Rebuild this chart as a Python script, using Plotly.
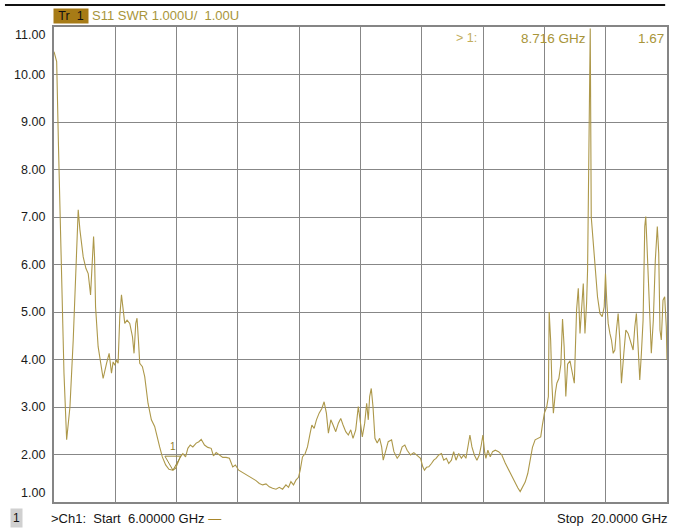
import plotly.graph_objects as go

# S11 SWR sweep, 6-20 GHz
freq_ghz = [
    6.000, 6.061, 6.102, 6.137, 6.175, 6.228, 6.289, 6.364, 6.439, 6.501,
    6.553, 6.592, 6.667, 6.728, 6.781, 6.835, 6.881, 6.904, 6.926, 6.949,
    7.008, 7.086, 7.122, 7.200, 7.259, 7.313, 7.350, 7.389, 7.427, 7.464,
    7.502, 7.541, 7.578, 7.616, 7.669, 7.730, 7.792, 7.828, 7.867, 7.896,
    7.928, 7.958, 8.019, 8.072, 8.147, 8.224, 8.299, 8.352, 8.413, 8.474,
    8.550, 8.625, 8.716, 8.777, 8.830, 8.884, 8.943, 9.005, 9.057, 9.112,
    9.171, 9.248, 9.308, 9.362, 9.437, 9.513, 9.590, 9.642, 9.704, 9.779,
    9.854, 9.931, 10.006, 10.082, 10.143, 10.218, 10.309, 10.387, 10.462, 10.537,
    10.614, 10.689, 10.765, 10.842, 10.917, 10.992, 11.070, 11.145, 11.220, 11.297,
    11.356, 11.411, 11.470, 11.525, 11.584, 11.623, 11.675, 11.737, 11.789, 11.850,
    11.889, 11.941, 11.994, 12.055, 12.117, 12.169, 12.221, 12.267, 12.322, 12.374,
    12.435, 12.495, 12.549, 12.602, 12.663, 12.722, 12.777, 12.829, 12.891, 12.950,
    12.995, 13.041, 13.096, 13.141, 13.178, 13.209, 13.246, 13.285, 13.330, 13.382,
    13.437, 13.483, 13.519, 13.574, 13.633, 13.710, 13.763, 13.838, 13.892, 13.952,
    14.013, 14.065, 14.143, 14.218, 14.293, 14.370, 14.423, 14.461, 14.507, 14.559,
    14.621, 14.673, 14.725, 14.787, 14.848, 14.901, 14.962, 15.015, 15.076, 15.128,
    15.181, 15.242, 15.304, 15.356, 15.408, 15.454, 15.499, 15.545, 15.600, 15.659,
    15.713, 15.759, 15.795, 15.834, 15.864, 15.909, 15.964, 16.016, 16.078, 16.153,
    16.228, 16.305, 16.380, 16.456, 16.533, 16.592, 16.647, 16.699, 16.761, 16.820,
    16.874, 16.927, 16.988, 17.047, 17.116, 17.154, 17.200, 17.252, 17.291, 17.309,
    17.343, 17.371, 17.405, 17.450, 17.484, 17.530, 17.576, 17.614, 17.651, 17.689,
    17.730, 17.785, 17.837, 17.883, 17.935, 17.974, 18.013, 18.049, 18.088, 18.126,
    18.163, 18.186, 18.208, 18.231, 18.247, 18.270, 18.304, 18.354, 18.413, 18.468,
    18.520, 18.566, 18.595, 18.627, 18.657, 18.696, 18.732, 18.771, 18.809, 18.846,
    18.884, 18.923, 18.960, 19.014, 19.060, 19.112, 19.164, 19.226, 19.265, 19.301,
    19.340, 19.378, 19.415, 19.454, 19.492, 19.515, 19.538, 19.567, 19.606, 19.642,
    19.688, 19.733, 19.779, 19.811, 19.840, 19.870, 19.909, 19.947, 19.984, 20.000,
]
swr = [
    10.48, 10.27, 8.50, 7.20, 5.46, 3.71, 2.31, 3.00, 4.41, 5.82,
    7.15, 6.73, 6.16, 5.92, 5.81, 5.36, 6.31, 6.59, 6.16, 5.11,
    4.27, 3.78, 3.60, 3.92, 4.13, 3.71, 3.95, 3.88, 3.99, 3.92,
    4.90, 5.36, 5.04, 4.76, 4.83, 4.76, 4.48, 4.13, 4.76, 4.87,
    4.41, 3.92, 3.85, 3.64, 3.08, 2.73, 2.59, 2.37, 2.16, 1.95,
    1.78, 1.69, 1.67, 1.71, 1.85, 1.95, 2.02, 1.95, 2.13, 2.20,
    2.16, 2.24, 2.27, 2.32, 2.20, 2.15, 2.13, 1.97, 2.04, 1.99,
    1.94, 1.94, 1.92, 1.74, 1.78, 1.67, 1.62, 1.57, 1.53, 1.48,
    1.45, 1.39, 1.36, 1.38, 1.32, 1.29, 1.27, 1.31, 1.27, 1.36,
    1.31, 1.43, 1.36, 1.46, 1.52, 1.67, 1.95, 2.02, 2.16, 2.45,
    2.62, 2.55, 2.73, 2.87, 2.97, 3.11, 2.87, 2.45, 2.73, 2.62,
    2.48, 2.66, 2.76, 2.62, 2.48, 2.41, 2.52, 2.34, 2.52, 3.01,
    2.73, 2.37, 2.66, 3.08, 2.73, 3.22, 3.39, 3.01, 2.34, 2.24,
    2.34, 2.16, 1.88, 2.09, 2.27, 2.31, 2.06, 1.92, 1.99, 2.16,
    2.20, 2.09, 1.99, 2.04, 1.99, 1.92, 1.74, 1.67, 1.73, 1.74,
    1.81, 1.88, 1.92, 1.99, 2.02, 1.88, 1.92, 1.81, 1.88, 2.06,
    1.88, 2.02, 1.92, 1.99, 1.92, 2.20, 2.41, 2.16, 1.99, 1.88,
    1.99, 2.20, 2.41, 2.06, 1.92, 2.09, 1.95, 2.06, 2.09, 2.06,
    1.99, 1.82, 1.68, 1.55, 1.41, 1.30, 1.22, 1.30, 1.42, 1.60,
    1.90, 2.15, 2.31, 2.34, 2.37, 2.62, 2.87, 3.00, 3.22, 5.00,
    4.40, 3.50, 2.87, 3.30, 3.50, 3.60, 3.90, 4.85, 4.27, 3.22,
    3.90, 3.97, 3.75, 3.50, 5.04, 5.50, 4.55, 5.18, 5.60, 4.55,
    5.18, 5.88, 8.34, 10.45, 10.97, 7.00, 6.59, 5.88, 5.32, 4.97,
    4.90, 5.11, 5.81, 5.18, 4.76, 4.55, 4.41, 4.13, 4.20, 4.62,
    4.97, 4.41, 3.50, 4.13, 4.62, 4.55, 4.41, 4.20, 4.69, 4.97,
    4.27, 3.57, 4.13, 4.83, 6.80, 7.01, 6.52, 5.81, 4.62, 4.13,
    4.83, 6.09, 6.80, 6.24, 4.62, 4.41, 5.25, 5.32, 4.69, 3.99,
]

y_ticks = [1, 2, 3, 4, 5, 6, 7, 8, 9, 10, 11]
start_ghz = 6.0
stop_ghz = 20.0
marker_freq = 8.716
marker_swr = 1.67

TRACE = "#ad984a"
GOLD_TEXT = "#a8953a"
GRID = "#878787"
FONT = "Liberation Sans, Arial, sans-serif"
NB = "\u00a0"

fig = go.Figure()
fig.add_trace(go.Scatter(
    x=freq_ghz, y=swr, mode="lines",
    line=dict(color=TRACE, width=1.1),
    hoverinfo="skip", showlegend=False,
))

fig.update_layout(
    width=673, height=528,
    margin=dict(l=54, r=4, t=27, b=26),
    paper_bgcolor="white", plot_bgcolor="white",
    font=dict(family=FONT, size=13, color="#1a1a1a"),
    showlegend=False,
    xaxis=dict(
        range=[start_ghz, stop_ghz], tick0=start_ghz, dtick=(stop_ghz - start_ghz) / 10,
        showticklabels=False, ticks="", showgrid=True, gridcolor=GRID, gridwidth=1.3,
        zeroline=False, showline=True, mirror=True, linecolor="#858585", linewidth=2,
        fixedrange=True,
    ),
    yaxis=dict(
        range=[y_ticks[0], y_ticks[-1]], tickvals=y_ticks,
        showticklabels=False, ticks="", showgrid=True, gridcolor=GRID, gridwidth=1.3,
        zeroline=False, showline=True, mirror=True, linecolor="#858585", linewidth=2,
        fixedrange=True,
    ),
)

annotations = []
# value scale at the left
for v in y_ticks:
    shift = 0
    if v == y_ticks[-1]:
        shift = -8
    elif v == y_ticks[0]:
        shift = 9
    annotations.append(dict(
        x=0, xref="paper", y=v, yref="y", xanchor="right", yanchor="middle",
        xshift=-7, yshift=shift, showarrow=False, text=f"{v:.2f}",
        font=dict(family=FONT, size=12.5, color="#1a1a1a"),
    ))

# trace header
annotations.append(dict(
    x=0, xref="paper", y=1, yref="paper", xanchor="left", yanchor="bottom",
    xshift=-1, yshift=3, showarrow=False, text=f"Tr{NB}{NB}1",
    bgcolor="#a77b16", borderpad=0, width=34, height=14, align="center",
    font=dict(family=FONT, size=12.5, color="#111111"),
))
annotations.append(dict(
    x=0, xref="paper", y=1, yref="paper", xanchor="left", yanchor="bottom",
    xshift=36, yshift=2, showarrow=False,
    text=f"S11{NB}SWR{NB}1.000U/{NB}{NB}1.00U",
    font=dict(family=FONT, size=13, color=GOLD_TEXT),
))

# marker readout
annotations.append(dict(
    x=1, xref="paper", y=1, yref="paper", xanchor="right", yanchor="top",
    xshift=-188, yshift=-2, showarrow=False, text=f">{NB}1:",
    font=dict(family=FONT, size=12.5, color="#c2ad5c"),
))
annotations.append(dict(
    x=1, xref="paper", y=1, yref="paper", xanchor="right", yanchor="top",
    xshift=-79, yshift=-2, showarrow=False, text=f"{marker_freq:.3f}{NB}GHz",
    font=dict(family=FONT, size=13.5, color=GOLD_TEXT),
))
annotations.append(dict(
    x=1, xref="paper", y=1, yref="paper", xanchor="right", yanchor="top",
    xshift=-1, yshift=-2, showarrow=False, text=f"{marker_swr:.2f}",
    font=dict(family=FONT, size=13.5, color=GOLD_TEXT),
))

# marker number above the trace
annotations.append(dict(
    x=marker_freq, y=marker_swr, xref="x", yref="y", yshift=24, showarrow=False,
    text="1", font=dict(family=FONT, size=10, color="#8f7d2c"),
))

# sweep footer
annotations.append(dict(
    x=0, xref="paper", y=0, yref="paper", xanchor="left", yanchor="top",
    xshift=-44, yshift=-6, showarrow=False, text="1",
    bgcolor="#d0d0d0", borderpad=2,
    font=dict(family=FONT, size=12, color="#111111"),
))
annotations.append(dict(
    x=0, xref="paper", y=0, yref="paper", xanchor="left", yanchor="top",
    xshift=-5, yshift=-7, showarrow=False,
    text=(f">Ch1:{NB}{NB}Start{NB}{NB}{start_ghz:.5f}{NB}GHz{NB}"
          f"<span style='color:#a8862a'>\u2014</span>"),
    font=dict(family=FONT, size=13, color="#151515"),
))
annotations.append(dict(
    x=1, xref="paper", y=0, yref="paper", xanchor="right", yanchor="top",
    xshift=3, yshift=-7, showarrow=False,
    text=f"Stop{NB}{NB}{stop_ghz:.4f}{NB}GHz",
    font=dict(family=FONT, size=13, color="#151515"),
))

shapes = [
    # rule above the display
    dict(type="line", xref="paper", yref="paper", x0=-0.08, x1=0.997, y0=1.0465, y1=1.0465,
         line=dict(color="#111111", width=2)),
    # reference level pointer
    dict(type="path", xref="x", yref="y", xsizemode="pixel", ysizemode="pixel",
         xanchor=start_ghz, yanchor=y_ticks[0], path="M -7,4 L 1,-1 L -7,-5 Z",
         fillcolor="#c8901a", line=dict(color="#c8901a", width=1)),
    # marker 1 triangle
    dict(type="path", xref="x", yref="y", xsizemode="pixel", ysizemode="pixel",
         xanchor=marker_freq, yanchor=marker_swr, path="M -8,14 L 8,14 L 0,0 Z",
         line=dict(color="#9c8a3c", width=1)),
]

fig.update_layout(annotations=annotations, shapes=shapes)
fig.write_html("out.html")
